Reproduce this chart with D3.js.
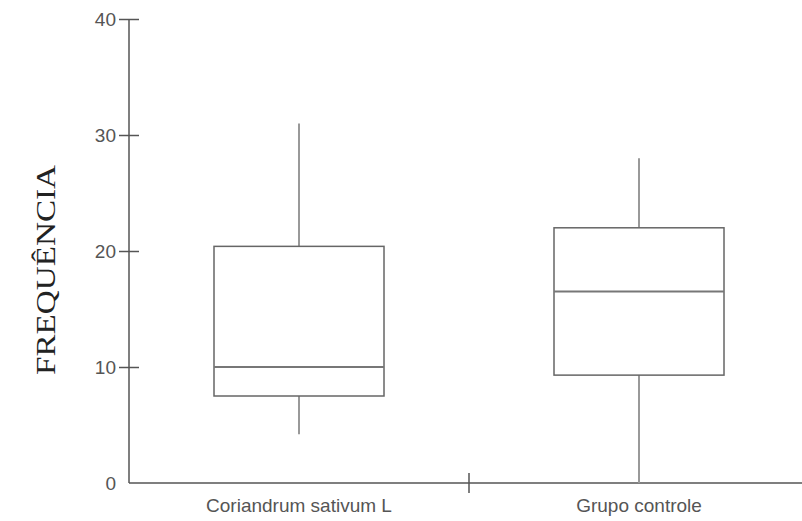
<!DOCTYPE html>
<html>
<head>
<meta charset="utf-8">
<script src="https://cdn.jsdelivr.net/npm/d3@7"></script>
<style>
  body { margin: 0; background: #fff; }
  .axis text { font-family: "Liberation Sans", Arial, sans-serif; font-size: 19px; fill: #555; }
  .axis path, .axis line { stroke: #555; stroke-width: 1.5; }
</style>
</head>
<body>
<div class="chart"></div>
<script>
const groups = ["Coriandrum sativum L", "Grupo controle"]
const mins = [4.2, 0]
const q1s = [7.5, 9.3]
const medians = [10, 16.5]
const q3s = [20.4, 22]
const maxs = [31, 28]
const yTicks = [0, 10, 20, 30, 40]

const data = groups.map((g, i) => ({
    group: g, min: mins[i], q1: q1s[i], median: medians[i], q3: q3s[i], max: maxs[i]
}))

const margin = ({top: 19, right: 0, bottom: 38, left: 129})
const width = 802 - margin.left - margin.right,
      height = 521 - margin.top - margin.bottom;

const svg = d3.select(".chart").append("svg")
    .attr("width", 802)
    .attr("height", 521)
    .append("g")
    .attr("transform", "translate(" + margin.left + "," + margin.top + ")");

const xScale = d3.scaleBand()
    .domain(groups)
    .range([0, 680])

const yScale = d3.scaleLinear()
    .domain([0, 40])
    .range([height, 0])

// y axis
svg.append("g")
    .attr("class", "axis y-axis")
    .call(d3.axisLeft(yScale).tickValues(yTicks).tickSize(0).tickPadding(13))
    .call(g => g.select(".domain").attr("d", `M0,0V${height}`))
    .call(g => g.selectAll(".tick line").attr("x1", -10).attr("x2", 10))
    .call(g => g.selectAll(".tick").filter(d => d === 0).select("line").remove())

// x axis
svg.append("g")
    .attr("class", "axis x-axis")
    .attr("transform", `translate(0, ${height})`)
    .call(d3.axisBottom(xScale).tickSize(0).tickPadding(16))
    .call(g => g.select(".domain").attr("d", `M0,0H${width}`))

// divider tick between groups
svg.append("line")
    .attr("x1", xScale.step())
    .attr("x2", xScale.step())
    .attr("y1", height - 10)
    .attr("y2", height + 10)
    .attr("stroke", "#555")
    .attr("stroke-width", 1.5)

const boxW = xScale.bandwidth() * 0.5

const box = svg.selectAll(".box")
    .data(data)
    .enter()
    .append("g")
    .attr("class", "box")
    .attr("transform", d => `translate(${xScale(d.group) + xScale.bandwidth() / 2},0)`)

// whiskers
box.append("line")
    .attr("y1", d => yScale(d.max))
    .attr("y2", d => yScale(d.q3))
    .attr("stroke", "#999")
    .attr("stroke-width", 2)
box.append("line")
    .attr("y1", d => yScale(d.q1))
    .attr("y2", d => yScale(d.min))
    .attr("stroke", "#999")
    .attr("stroke-width", 2)

box.append("rect")
    .attr("x", -boxW / 2)
    .attr("width", boxW)
    .attr("y", d => yScale(d.q3))
    .attr("height", d => yScale(d.q1) - yScale(d.q3))
    .attr("fill", "white")
    .attr("stroke", "#666")
    .attr("stroke-width", 1.5)

box.append("line")
    .attr("x1", -boxW / 2)
    .attr("x2", boxW / 2)
    .attr("y1", d => yScale(d.median))
    .attr("y2", d => yScale(d.median))
    .attr("stroke", "#777")
    .attr("stroke-width", 2)

svg.append("text")
    .attr("transform", `translate(-74, ${251}) rotate(-90)`)
    .attr("text-anchor", "middle")
    .attr("font-family", "Liberation Serif, Times New Roman, serif")
    .attr("font-size", 27)
    .attr("textLength", 210)
    .attr("lengthAdjust", "spacingAndGlyphs")
    .attr("fill", "#222")
    .text("FREQUÊNCIA")
</script>
</body>
</html>
